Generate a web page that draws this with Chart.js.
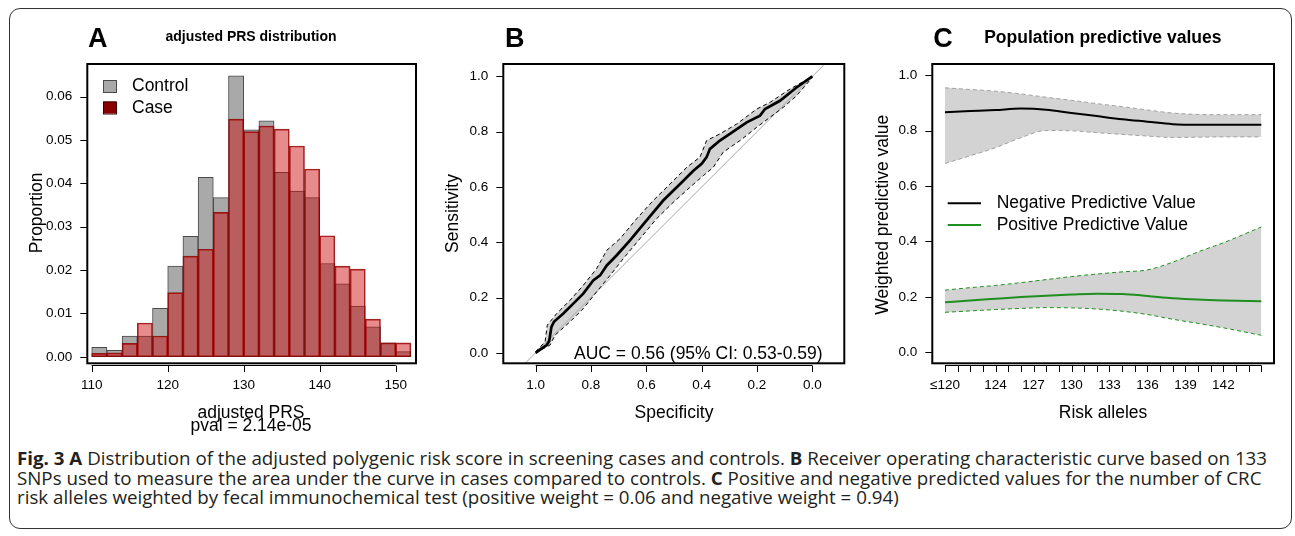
<!DOCTYPE html>
<html><head><meta charset="utf-8">
<script src="https://cdn.jsdelivr.net/npm/chart.js@4.4.1/dist/chart.umd.min.js"></script>
<style>
html,body{margin:0;padding:0;background:#fff;}
body{width:1295px;height:536px;position:relative;overflow:hidden;}
#frame{position:absolute;left:9px;top:8px;width:1281px;height:519px;border:1.5px solid #333;border-radius:11px;}
.pane{position:absolute;top:0;height:440px;}
#caption{position:absolute;left:17px;top:449px;font-family:"Open Sans",sans-serif;color:#231f20;white-space:nowrap;line-height:19.6px;font-size:17.5px;transform-origin:0 0;}
#caption span{display:inline-block;}
#caption b{font-weight:700;}
</style></head>
<body>
<div id="frame"></div>
<div class="pane" style="left:0;width:430px"><canvas id="cA" width="430" height="440"></canvas></div>
<div class="pane" style="left:430px;width:430px"><canvas id="cB" width="430" height="440"></canvas></div>
<div class="pane" style="left:860px;width:435px"><canvas id="cC" width="435" height="440"></canvas></div>
<div id="caption">
<div><span id="l1"><b>Fig. 3 A</b> Distribution of the adjusted polygenic risk score in screening cases and controls. <b>B</b> Receiver operating characteristic curve based on 133</span></div>
<div><span>SNPs used to measure the area under the curve in cases compared to controls. <b>C</b> Positive and negative predicted values for the number of CRC</span></div>
<div><span>risk alleles weighted by fecal immunochemical test (positive weight = 0.06 and negative weight = 0.94)</span></div>
</div>
<script>
// ---------------- DATA ----------------
// Panel A: histogram bins (centres of 2-unit bins from 110 to 152)
const binCentres = [111,113,115,117,119,121,123,125,127,129,131,133,135,137,139,141,143,145,147,149,151];
const controlProp = [0.0022,0.0015,0.0048,0.0048,0.0112,0.0209,0.0278,0.0414,0.0367,0.0648,0.0523,0.0544,0.0425,0.0382,0.0367,0.0215,0.0168,0.0117,0.0069,0.0032,0.0012];
const caseProp    = [0.0008,0.0009,0.0031,0.0078,0.0048,0.0148,0.0232,0.0248,0.0333,0.0548,0.0519,0.0532,0.0525,0.0486,0.0433,0.0279,0.0209,0.0202,0.0087,0.0032,0.0032];
const aXTicks = [110,120,130,140,150];
const aYTicks = [0,0.01,0.02,0.03,0.04,0.05,0.06];

// Panel B: ROC curve
const rocSpec = [1.000,0.978,0.960,0.951,0.943,0.934,0.900,0.864,0.828,0.792,0.767,0.743,0.707,0.659,0.599,0.539,0.478,0.430,0.400,0.382,0.370,0.334,0.298,0.237,0.189,0.171,0.117,0.057,0.000];
const rocSens = [0.000,0.016,0.028,0.043,0.094,0.112,0.142,0.178,0.214,0.262,0.280,0.316,0.353,0.407,0.479,0.551,0.611,0.659,0.684,0.708,0.738,0.768,0.792,0.834,0.858,0.882,0.912,0.960,1.000];
const ciHiSpec = [1.000,0.966,0.958,0.924,0.876,0.828,0.780,0.743,0.695,0.635,0.575,0.514,0.454,0.406,0.382,0.334,0.273,0.201,0.153,0.081,0.000];
const ciHiSens = [0.004,0.040,0.100,0.142,0.190,0.244,0.304,0.371,0.413,0.485,0.551,0.611,0.671,0.708,0.768,0.792,0.828,0.882,0.906,0.954,1.000];
const ciLoSpec = [1.000,0.948,0.930,0.876,0.828,0.780,0.731,0.683,0.623,0.563,0.502,0.442,0.394,0.358,0.322,0.261,0.201,0.153,0.105,0.057,0.000];
const ciLoSens = [0.000,0.028,0.064,0.112,0.160,0.220,0.280,0.341,0.413,0.485,0.545,0.599,0.641,0.671,0.726,0.768,0.816,0.852,0.888,0.930,0.996];
const chanceSpec = [1.2,-0.2];
const chanceSens = [-0.2,1.2];
const bTicks = [0,0.2,0.4,0.6,0.8,1.0];
const aucLabel = 'AUC = 0.56 (95% CI: 0.53-0.59)';

// Panel C: predictive values by risk alleles
const riskAlleles = [120,122,124,126,128,130,132,134,136,138,140,142,145];
const npv   = [0.866,0.870,0.874,0.879,0.875,0.863,0.852,0.841,0.832,0.823,0.821,0.821,0.821];
const npvHi = [0.954,0.948,0.942,0.932,0.920,0.909,0.897,0.886,0.874,0.863,0.858,0.857,0.857];
const npvLo = [0.681,0.709,0.738,0.774,0.800,0.799,0.792,0.786,0.780,0.775,0.776,0.777,0.777];
const ppv   = [0.180,0.187,0.193,0.199,0.204,0.208,0.211,0.210,0.203,0.195,0.190,0.187,0.184];
const ppvHi = [0.224,0.233,0.241,0.251,0.262,0.273,0.282,0.290,0.297,0.325,0.362,0.395,0.452];
const ppvLo = [0.144,0.149,0.154,0.158,0.161,0.160,0.156,0.148,0.136,0.119,0.104,0.088,0.061];
const cXTicks = [120,121,122,123,124,125,126,127,128,129,130,131,132,133,134,135,136,137,138,139,140,141,142,143,144,145];
const cXLabelAt = [120,124,127,130,133,136,139,142];
const cXLabels  = ['≤120','124','127','130','133','136','139','142'];
const cYTicks = [0,0.2,0.4,0.6,0.8,1.0];

// ---------------- HELPERS ----------------
const F = '"Liberation Sans", Arial, sans-serif';
const TICK = 13.5;
const pts = (xs, ys) => xs.map((x,i)=>({x, y: ys[i]}));
function txt(ctx, s, x, y, size, o={}){
  ctx.save();
  ctx.font = (o.bold?'bold ':'') + size + 'px ' + F;
  ctx.fillStyle = o.color || '#000';
  ctx.textAlign = o.align || 'left';
  ctx.textBaseline = o.baseline || 'alphabetic';
  ctx.translate(x,y);
  if (o.rot) ctx.rotate(o.rot);
  ctx.fillText(s,0,0);
  ctx.restore();
}
function makeAxes(extra){
  return {
    id:'rAxes',
    afterDraw(chart){
      const {ctx, chartArea:a, scales:{x,y}} = chart;
      ctx.save();
      ctx.strokeStyle='#000'; ctx.lineWidth=1;
      ctx.beginPath();
      y.ticks.forEach(t=>{const p=Math.round(y.getPixelForValue(t.value))+0.5; ctx.moveTo(a.left-7,p); ctx.lineTo(a.left,p);});
      const xb = Math.round(a.bottom+2)+0.5;
      x.ticks.forEach(t=>{const p=Math.round(x.getPixelForValue(t.value))+0.5; ctx.moveTo(p,xb); ctx.lineTo(p,xb+6.5);});
      const xs = x.ticks.map(t=>x.getPixelForValue(t.value));
      ctx.moveTo(Math.min(...xs),xb); ctx.lineTo(Math.max(...xs),xb);
      ctx.stroke();
      ctx.lineWidth=2;
      ctx.strokeRect(a.left,a.top,a.right-a.left,a.bottom-a.top);
      ctx.restore();
      extra(ctx, chart);
    }
  };
}
function scales(o){
  return {
    x:{type:'linear',min:o.xmin,max:o.xmax,reverse:!!o.reverse,offset:false,
      afterFit(s){s.height=o.B;},
      afterBuildTicks(s){s.ticks=o.xticks.map(v=>({value:v}));},
      grid:{display:false,drawTicks:false},border:{display:false},
      ticks:{autoSkip:false,maxRotation:0,minRotation:0,padding:14,color:'#000',font:{family:F,size:TICK},callback:o.xfmt}},
    y:{type:'linear',min:o.ymin,max:o.ymax,
      afterFit(s){s.width=o.L;},
      afterBuildTicks(s){s.ticks=o.yticks.map(v=>({value:v}));},
      grid:{display:false,drawTicks:false},border:{display:false},
      ticks:{autoSkip:false,padding:15,color:'#000',font:{family:F,size:TICK},callback:o.yfmt}}
  };
}
const base = {responsive:false,animation:false,events:[],
  elements:{point:{radius:0}}};

// ---------------- PANEL A ----------------
new Chart(document.getElementById('cA'),{
  type:'bar',
  data:{datasets:[
    {label:'Case',data:pts(binCentres,caseProp),backgroundColor:'rgba(205,10,10,0.47)',borderColor:'rgba(140,0,0,0.85)',borderWidth:1,borderSkipped:false,grouped:false,barPercentage:1,categoryPercentage:1},
    {label:'Control',data:pts(binCentres,controlProp),backgroundColor:'#a9a9a9',borderColor:'#4a4a4a',borderWidth:1,borderSkipped:false,grouped:false,barPercentage:1,categoryPercentage:1}
  ]},
  options:{...base,
    layout:{padding:{left:0,top:64,right:14,bottom:0}},
    scales:scales({xmin:109.42,xmax:152.67,ymin:-0.0015,ymax:0.0675,xticks:aXTicks,yticks:aYTicks,
      xfmt:v=>String(v),yfmt:v=>v.toFixed(2),L:87.3,B:76.7}),
    plugins:{legend:{display:false},tooltip:{enabled:false}}
  },
  plugins:[makeAxes((ctx)=>{
    txt(ctx,'A',88,46.5,27,{bold:true});
    txt(ctx,'adjusted PRS distribution',251,40.5,14,{bold:true,align:'center'});
    txt(ctx,'Proportion',42,213,17.5,{align:'center',rot:-Math.PI/2});
    txt(ctx,'adjusted PRS',251,417.5,17.5,{align:'center'});
    txt(ctx,'pval = 2.14e-05',251,430.5,17.5,{align:'center'});
    ctx.save();ctx.lineWidth=1;
    ctx.fillStyle='#a9a9a9';ctx.strokeStyle='#4a4a4a';
    ctx.fillRect(103,80,13,12);ctx.strokeRect(103.5,80.5,13,12);
    ctx.fillStyle='#8b0000';ctx.strokeStyle='#3a0000';
    ctx.fillRect(103,101.5,13,12);ctx.strokeRect(103.5,102,13,12);
    ctx.restore();
    txt(ctx,'Control',132,86.5,17.5,{baseline:'middle'});
    txt(ctx,'Case',132,108,17.5,{baseline:'middle'});
  })]
});

// ---------------- PANEL B ----------------
new Chart(document.getElementById('cB'),{
  type:'line',
  data:{datasets:[
    {label:'ROC',data:pts(rocSpec,rocSens),borderColor:'#000',borderWidth:2.7,fill:false,tension:0},
    {label:'CI upper',data:pts(ciHiSpec,ciHiSens),borderColor:'#000',borderWidth:1,borderDash:[4,3],fill:{target:2},backgroundColor:'#d3d3d3',tension:0},
    {label:'CI lower',data:pts(ciLoSpec,ciLoSens),borderColor:'#000',borderWidth:1,borderDash:[4,3],fill:false,tension:0},
    {label:'chance',data:pts(chanceSpec,chanceSens),borderColor:'#a8a8a8',borderWidth:1,fill:false,tension:0}
  ]},
  options:{...base,
    layout:{padding:{left:0,top:64,right:15.7,bottom:0}},
    scales:scales({xmin:-0.1157,xmax:1.117,reverse:true,ymin:-0.038,ymax:1.045,xticks:bTicks,yticks:bTicks,
      xfmt:v=>v.toFixed(1),yfmt:v=>v.toFixed(1),L:73.3,B:76.7}),
    plugins:{legend:{display:false},tooltip:{enabled:false},filler:{drawTime:'beforeDatasetsDraw'}}
  },
  plugins:[makeAxes((ctx)=>{
    txt(ctx,'B',75,46.5,27,{bold:true});
    txt(ctx,'Sensitivity',28.2,213.5,17.5,{align:'center',rot:-Math.PI/2});
    txt(ctx,'Specificity',244,418,17.5,{align:'center'});
    txt(ctx,aucLabel,144,359,17.5);
  })]
});

// ---------------- PANEL C ----------------
const green = '#1f8f1f';
new Chart(document.getElementById('cC'),{
  type:'line',
  data:{datasets:[
    {label:'Negative Predictive Value',data:pts(riskAlleles,npv),borderColor:'#000',borderWidth:2,fill:false,cubicInterpolationMode:'monotone'},
    {label:'Positive Predictive Value',data:pts(riskAlleles,ppv),borderColor:green,borderWidth:2,fill:false,cubicInterpolationMode:'monotone'},
    {label:'NPV upper',data:pts(riskAlleles,npvHi),borderColor:'#a0a0a0',borderWidth:1,borderDash:[4,3],fill:{target:3},backgroundColor:'#d3d3d3',cubicInterpolationMode:'monotone'},
    {label:'NPV lower',data:pts(riskAlleles,npvLo),borderColor:'#a0a0a0',borderWidth:1,borderDash:[4,3],fill:false,cubicInterpolationMode:'monotone'},
    {label:'PPV upper',data:pts(riskAlleles,ppvHi),borderColor:green,borderWidth:1,borderDash:[4,3],fill:{target:5},backgroundColor:'#d3d3d3',cubicInterpolationMode:'monotone'},
    {label:'PPV lower',data:pts(riskAlleles,ppvLo),borderColor:green,borderWidth:1,borderDash:[4,3],fill:false,cubicInterpolationMode:'monotone'}
  ]},
  options:{...base,
    layout:{padding:{left:0,top:64,right:21,bottom:0}},
    scales:scales({xmin:119,xmax:146,ymin:-0.04,ymax:1.04,xticks:cXTicks,yticks:cYTicks,
      xfmt:v=>{const i=cXLabelAt.indexOf(v);return i<0?'':cXLabels[i];},yfmt:v=>v.toFixed(1),L:72.3,B:76.7}),
    plugins:{legend:{display:false},tooltip:{enabled:false},filler:{drawTime:'beforeDatasetsDraw'}}
  },
  plugins:[makeAxes((ctx)=>{
    txt(ctx,'C',73.3,46.5,27,{bold:true});
    txt(ctx,'Population predictive values',242.8,42.7,17.5,{bold:true,align:'center'});
    txt(ctx,'Weighted predictive value',27.7,214.7,17.5,{align:'center',rot:-Math.PI/2});
    txt(ctx,'Risk alleles',243,418.3,17.5,{align:'center'});
    ctx.save();ctx.lineWidth=2;
    ctx.strokeStyle='#000';ctx.beginPath();ctx.moveTo(87.7,203.3);ctx.lineTo(121,203.3);ctx.stroke();
    ctx.strokeStyle=green;ctx.beginPath();ctx.moveTo(87.7,225);ctx.lineTo(121,225);ctx.stroke();
    ctx.restore();
    txt(ctx,'Negative Predictive Value',136.7,203.3,17.5,{baseline:'middle'});
    txt(ctx,'Positive Predictive Value',136.7,225,17.5,{baseline:'middle'});
  })]
});

// ---------------- CAPTION FIT ----------------
function fitCaption(){
  const cap=document.getElementById('caption');
  const l1=document.getElementById('l1');
  cap.style.transform='none';
  const w=l1.getBoundingClientRect().width;
  cap.style.transform='scaleX('+(1250/w).toFixed(4)+')';
}
fitCaption();
if (document.fonts && document.fonts.ready) document.fonts.ready.then(fitCaption);
</script>
</body></html>
